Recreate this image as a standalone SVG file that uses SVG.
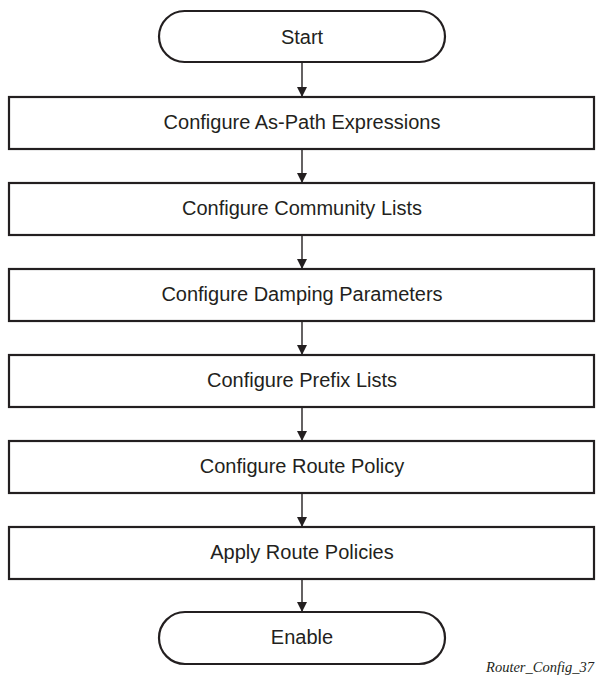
<svg xmlns="http://www.w3.org/2000/svg" width="597" height="681" viewBox="0 0 597 681">
<style>
.n{fill:#fff;stroke:#231f20;stroke-width:2.2}
.t{font-family:"Liberation Sans",Arial,sans-serif;font-size:20px;fill:#231f20;text-anchor:middle}
.c{stroke:#231f20;stroke-width:1.4;fill:none}
.f{font-family:"Liberation Serif","Times New Roman",serif;font-style:italic;font-size:14.5px;fill:#231f20;text-anchor:end}
</style>
<defs>
<marker id="ah" viewBox="0 0 10 16" refX="10" refY="8" markerWidth="10" markerHeight="16" markerUnits="userSpaceOnUse" orient="auto">
<path d="M0,3 L10,8 L0,13 Z" fill="#231f20"/>
</marker>
</defs>
<g id="connectors">
<line class="c" x1="302" y1="62" x2="302" y2="97" marker-end="url(#ah)"/>
<line class="c" x1="302" y1="149" x2="302" y2="183" marker-end="url(#ah)"/>
<line class="c" x1="302" y1="235" x2="302" y2="269" marker-end="url(#ah)"/>
<line class="c" x1="302" y1="321" x2="302" y2="355" marker-end="url(#ah)"/>
<line class="c" x1="302" y1="407" x2="302" y2="441" marker-end="url(#ah)"/>
<line class="c" x1="302" y1="493" x2="302" y2="527" marker-end="url(#ah)"/>
<line class="c" x1="302" y1="579" x2="302" y2="612" marker-end="url(#ah)"/>
</g>
<g id="start"><rect class="n" x="159" y="11" width="286" height="51" rx="25.5"/><text class="t" x="302" y="43.5">Start</text></g>
<g id="n1"><rect class="n" x="9" y="97" width="585" height="52"/><text class="t" x="302" y="129">Configure As-Path Expressions</text></g>
<g id="n2"><rect class="n" x="9" y="183" width="585" height="52"/><text class="t" x="302" y="215">Configure Community Lists</text></g>
<g id="n3"><rect class="n" x="9" y="269" width="585" height="52"/><text class="t" x="302" y="301">Configure Damping Parameters</text></g>
<g id="n4"><rect class="n" x="9" y="355" width="585" height="52"/><text class="t" x="302" y="387">Configure Prefix Lists</text></g>
<g id="n5"><rect class="n" x="9" y="441" width="585" height="52"/><text class="t" x="302" y="473">Configure Route Policy</text></g>
<g id="n6"><rect class="n" x="9" y="527" width="585" height="52"/><text class="t" x="302" y="559">Apply Route Policies</text></g>
<g id="enable"><rect class="n" x="159" y="612" width="286" height="52" rx="26"/><text class="t" x="302" y="644">Enable</text></g>
<text class="f" x="594" y="672">Router_Config_37</text>
</svg>
